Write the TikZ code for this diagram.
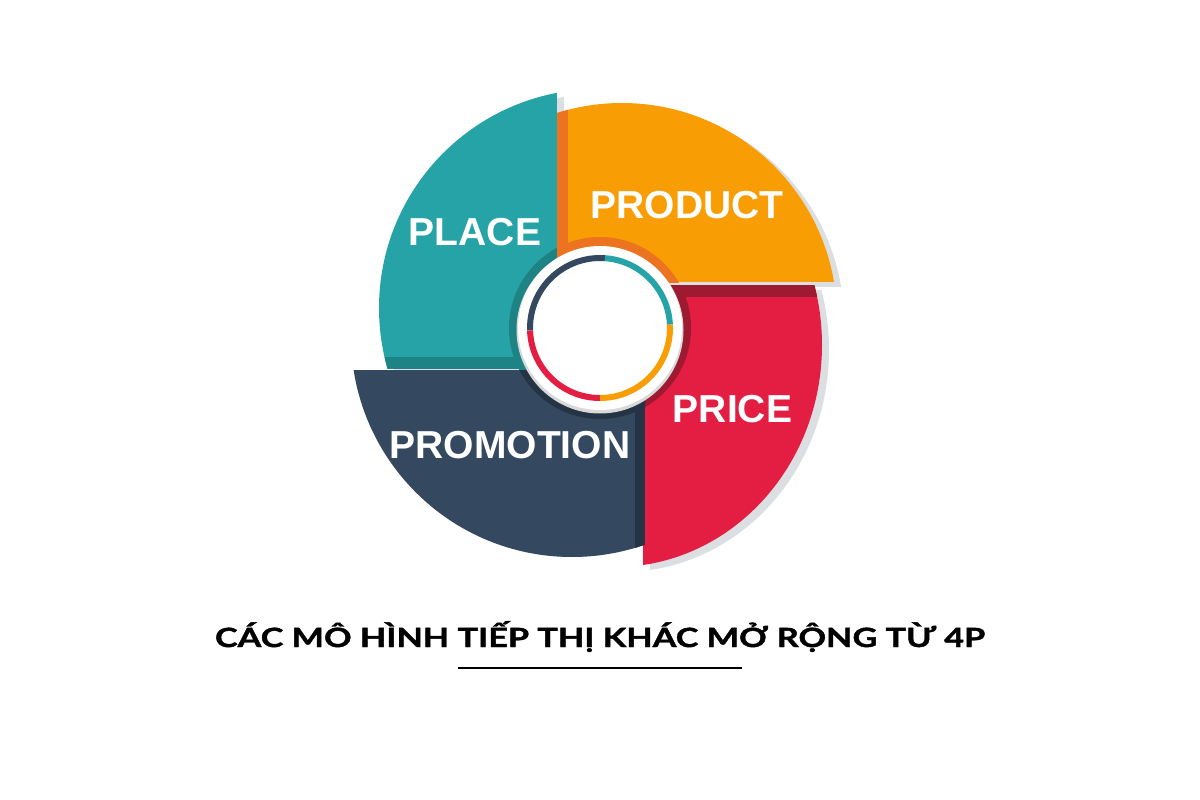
\documentclass[tikz,border=0pt]{standalone}
\usepackage{fontspec}
\usepackage{graphicx}
\setmainfont{Liberation Sans}
\newfontfamily\titlefont[BoldFeatures={FakeBold=1.3}]{Lato}
\definecolor{placec}{HTML}{26A3A6}
\definecolor{placed}{HTML}{1E8384}
\definecolor{productc}{HTML}{F99D05}
\definecolor{productd}{HTML}{EC7320}
\definecolor{pricec}{HTML}{E31E42}
\definecolor{priced}{HTML}{9E1A30}
\definecolor{promoc}{HTML}{34495F}
\definecolor{promod}{HTML}{243445}
\definecolor{shadowc}{HTML}{DCDFE1}
\begin{document}
\begin{tikzpicture}[x=1pt, y=1pt,
    label/.style={text=white, inner sep=0pt, font=\fontsize{39}{39}\selectfont\bfseries},
    ringpart/.style={line width=6pt}]
    \useasboundingbox (0,0) rectangle (1200,-800);
    \begin{scope}[shift={(7,-4)}]
        \clip (300,-60) rectangle (557,-369);
        \fill[shadowc] (598,-308) circle (219);
    \end{scope}
    \begin{scope}[shift={(7,-4)}]
        \clip (557,-60) rectangle (900,-282);
        \fill[shadowc] (622,-318) circle (215);
    \end{scope}
    \begin{scope}[shift={(7,-5)}]
        \clip (643,-285) rectangle (900,-620);
        \fill[shadowc] (615,-345) ellipse (207 and 222);
    \end{scope}
    \begin{scope}
        \clip (300,-60) rectangle (557,-369);
        \clip (598,-308) circle (219);
        \fill[placec] (300,-60) rectangle (557,-369);
        \fill[placed] (300,-357) rectangle (557,-369);
        \fill[placed] (600,-328) circle (91);
    \end{scope}
    \begin{scope}
        \clip (557,-60) rectangle (900,-282);
        \clip (622,-318) circle (215);
        \fill[productc] (557,-60) rectangle (900,-282);
        \fill[productd] (557,-60) rectangle (568,-282);
        \fill[productd] (600,-328) circle (91);
    \end{scope}
    \begin{scope}
        \clip (643,-285) rectangle (900,-620);
        \clip (615,-345) ellipse (207 and 222);
        \fill[pricec] (643,-285) rectangle (900,-620);
        \fill[priced] (643,-285) rectangle (900,-297);
        \fill[priced] (600,-328) circle (91);
    \end{scope}
    \begin{scope}
        \clip (300,-370) rectangle (645,-620);
        \clip (572,-336) circle (221);
        \fill[promoc] (300,-370) rectangle (645,-620);
        \fill[promod] (635,-370) rectangle (645,-620);
        \fill[promod] (600,-328) circle (91);
    \end{scope}
    \fill[black!15] (600,-330) circle (83.5);
    \fill[white] (600,-328) circle (82);
    \draw[ringpart, promoc] (600,-328) ++(86:70) arc[start angle=86, end angle=182, radius=70];
    \draw[ringpart, pricec] (600,-328) ++(182:70) arc[start angle=182, end angle=270, radius=70];
    \draw[ringpart, productc] (600,-328) ++(270:70) arc[start angle=270, end angle=363, radius=70];
    \draw[ringpart, placec] (600,-328) ++(3:70) arc[start angle=3, end angle=86, radius=70];
    \node[label] (place) at (475,-232.5) {PLACE};
    \node[label] (product) at (687,-205) {PRODUCT};
    \node[label] (price) at (732.5,-409) {PRICE};
    \node[label] (promotion) at (510,-445.5) {PROMOTION};
    \node[inner sep=0pt, anchor=base] (title) at (600,-647)
        {\resizebox{770pt}{\height}{\titlefont\bfseries\fontsize{26.5}{27}\selectfont CÁC MÔ HÌNH TIẾP THỊ KHÁC MỞ RỘNG TỪ 4P}};
    \draw[line width=2pt] (458,-668) -- (742,-668);
\end{tikzpicture}
\end{document}
